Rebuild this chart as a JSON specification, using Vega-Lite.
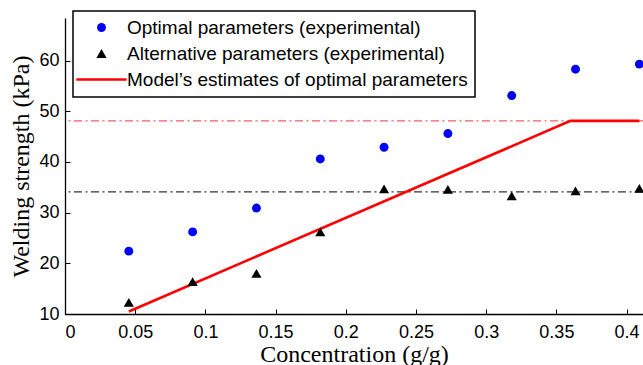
{
  "$schema": "https://vega.github.io/schema/vega-lite/v6.json",
  "width": 578,
  "height": 296,
  "autosize": {"type": "none"},
  "padding": {"left": 65, "top": 18, "right": 0, "bottom": 51},
  "config": {
    "view": {"stroke": null},
    "font": "Liberation Sans",
    "axis": {
      "grid": false,
      "domainColor": "black",
      "domainWidth": 1.3,
      "tickColor": "black",
      "tickWidth": 1,
      "tickSize": -5,
      "labelColor": "black",
      "labelFont": "Liberation Sans",
      "labelFontSize": 18,
      "titleColor": "black",
      "titleFont": "Liberation Serif",
      "titleFontSize": 24,
      "titleFontWeight": "normal"
    }
  },
  "datasets": {
    "pts": [
      {"x": 0.04545, "y": 22.4, "series": "Optimal parameters (experimental)"},
      {"x": 0.09091, "y": 26.2, "series": "Optimal parameters (experimental)"},
      {"x": 0.13636, "y": 30.9, "series": "Optimal parameters (experimental)"},
      {"x": 0.18182, "y": 40.6, "series": "Optimal parameters (experimental)"},
      {"x": 0.22727, "y": 42.9, "series": "Optimal parameters (experimental)"},
      {"x": 0.27273, "y": 45.6, "series": "Optimal parameters (experimental)"},
      {"x": 0.31818, "y": 53.1, "series": "Optimal parameters (experimental)"},
      {"x": 0.36364, "y": 58.3, "series": "Optimal parameters (experimental)"},
      {"x": 0.40909, "y": 59.3, "series": "Optimal parameters (experimental)"},
      {"x": 0.04545, "y": 12.3, "series": "Alternative parameters (experimental)"},
      {"x": 0.09091, "y": 16.4, "series": "Alternative parameters (experimental)"},
      {"x": 0.13636, "y": 18.0, "series": "Alternative parameters (experimental)"},
      {"x": 0.18182, "y": 26.2, "series": "Alternative parameters (experimental)"},
      {"x": 0.22727, "y": 34.7, "series": "Alternative parameters (experimental)"},
      {"x": 0.27273, "y": 34.6, "series": "Alternative parameters (experimental)"},
      {"x": 0.31818, "y": 33.3, "series": "Alternative parameters (experimental)"},
      {"x": 0.36364, "y": 34.3, "series": "Alternative parameters (experimental)"},
      {"x": 0.40909, "y": 34.8, "series": "Alternative parameters (experimental)"}
    ],
    "model": [
      {"x": 0.0455, "y": 10.5},
      {"x": 0.36, "y": 48.1},
      {"x": 0.40909, "y": 48.1}
    ],
    "refs": [
      {"y": 48.1, "kind": "model"},
      {"y": 34.1, "kind": "alt"}
    ]
  },
  "layer": [
    {
      "data": {"name": "refs"},
      "transform": [{"filter": "datum.kind === 'model'"}],
      "mark": {"type": "rule", "color": "#ff5a5a", "strokeWidth": 1.3, "strokeDash": [8, 3.5, 2, 3.5]},
      "encoding": {
        "y": {"field": "y", "type": "quantitative"}
      }
    },
    {
      "data": {"name": "refs"},
      "transform": [{"filter": "datum.kind === 'alt'"}],
      "mark": {"type": "rule", "color": "#333333", "strokeWidth": 1.3, "strokeDash": [8, 3.5, 2, 3.5]},
      "encoding": {
        "y": {"field": "y", "type": "quantitative"}
      }
    },
    {
      "data": {"name": "model"},
      "mark": {"type": "line", "color": "#ff0000", "strokeWidth": 2.6},
      "encoding": {
        "x": {"field": "x", "type": "quantitative"},
        "y": {"field": "y", "type": "quantitative"}
      }
    },
    {
      "data": {"name": "pts"},
      "mark": {"type": "point", "filled": true, "opacity": 1},
      "encoding": {
        "x": {
          "field": "x", "type": "quantitative",
          "scale": {"domain": [0, 0.4117], "nice": false, "zero": false},
          "axis": {
            "title": "Concentration (g/g)",
            "values": [0, 0.05, 0.1, 0.15, 0.2, 0.25, 0.3, 0.35, 0.4],
            "format": ".2~f",
            "labelPadding": 14,
            "titleBaseline": "middle",
            "titleY": 40
          }
        },
        "y": {
          "field": "y", "type": "quantitative",
          "scale": {"domain": [10, 68.4], "nice": false, "zero": false},
          "axis": {
            "title": "Welding strength (kPa)",
            "values": [10, 20, 30, 40, 50, 60],
            "labelPadding": 11,
            "titlePadding": 5
          }
        },
        "color": {
          "field": "series", "type": "nominal",
          "scale": {
            "domain": ["Optimal parameters (experimental)", "Alternative parameters (experimental)", "Model’s estimates of optimal parameters"],
            "range": ["#0000ff", "#000000", "#ff0000"]
          },
          "legend": {
            "orient": "none",
            "legendX": 8,
            "legendY": -7,
            "title": null,
            "fillColor": "white",
            "strokeColor": "black",
            "padding": 7,
            "labelFont": "Liberation Sans",
            "labelFontSize": 19,
            "labelColor": "black",
            "labelLimit": 600,
            "symbolSize": 64,
            "symbolOffset": 12,
            "labelOffset": 16,
            "rowPadding": 6,
            "symbolOpacity": 1,
            "encode": {
              "legend": {"update": {"strokeWidth": {"value": 1.5}}},
              "symbols": {
                "update": {
                  "fill": {"signal": "datum.value === 'Model’s estimates of optimal parameters' ? 'transparent' : scale('color', datum.value)"},
                  "stroke": {"signal": "scale('color', datum.value)"},
                  "strokeWidth": {"signal": "datum.value === 'Model’s estimates of optimal parameters' ? 2.6 : 0"}
                }
              }
            }
          }
        },
        "shape": {
          "field": "series", "type": "nominal",
          "scale": {
            "domain": ["Optimal parameters (experimental)", "Alternative parameters (experimental)", "Model’s estimates of optimal parameters"],
            "range": ["circle", "triangle-up", "M-4.5,0H4.5"]
          }
        },
        "size": {
          "field": "series", "type": "nominal",
          "scale": {
            "domain": ["Optimal parameters (experimental)", "Alternative parameters (experimental)", "Model’s estimates of optimal parameters"],
            "range": [80, 125, 64]
          },
          "legend": null
        }
      }
    }
  ]
}
